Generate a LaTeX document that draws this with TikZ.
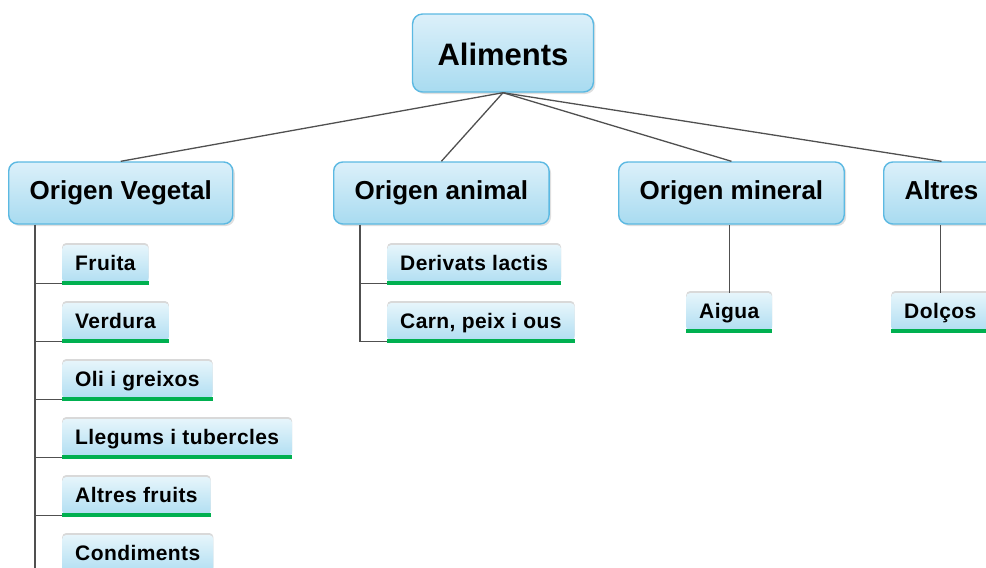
\documentclass[tikz,border=0pt]{standalone}
\usepackage{fontspec}
\setmainfont{Liberation Sans}
\newfontfamily\itemfont{Liberation Sans}[LetterSpace=2]
\usetikzlibrary{shadows}
\definecolor{boxtop}{HTML}{DCF0FA}
\definecolor{boxbot}{HTML}{A8DBF0}
\definecolor{boxline}{HTML}{5CB9E2}
\definecolor{itemtop}{HTML}{E6F5FB}
\definecolor{itembot}{HTML}{B0DEF2}
\definecolor{leafgreen}{HTML}{00B050}
\definecolor{wirecol}{HTML}{505050}
\begin{document}
\begin{tikzpicture}[x=1pt,y=-1pt,
    root/.style={draw=boxline, line width=1.4pt, rounded corners=10pt,
        top color=boxtop, bottom color=boxbot, inner xsep=25pt, minimum height=78pt,
        text height=24pt, text depth=0pt,
        font=\fontsize{31}{36}\selectfont\bfseries,
        drop shadow={shadow xshift=2pt, shadow yshift=-2pt, opacity=.25}},
    group/.style={root, rounded corners=9pt, inner xsep=21pt, minimum height=62pt,
        text height=19pt, text depth=5.5pt,
        font=\fontsize{26}{30}\selectfont\bfseries, anchor=west},
    item/.style={rounded corners=4pt, top color=itemtop, bottom color=itembot,
        inner xsep=13pt, minimum height=38pt, anchor=west,
        text height=16pt, text depth=4pt,
        font=\itemfont\fontsize{21}{25}\selectfont\bfseries,
        drop shadow={shadow xshift=0pt, shadow yshift=2pt, opacity=.3},
        append after command={(\tikzlastnode.south west) edge[leafgreen, line width=4pt] (\tikzlastnode.south east)}},
    wire/.style={draw=wirecol, line width=1.3pt}]
    \useasboundingbox (0,0) rectangle (986,568);
    \clip (0,0) rectangle (986,568);

    \node[root] (food) at (503,53) {Aliments};
    \node[group] (veg) at (8,193) {Origen Vegetal};
    \node[group] (ani) at (333,193) {Origen animal};
    \node[group] (min) at (618,193) {Origen mineral};
    \node[group] (alt) at (883,193) {Altres};
    \foreach \g in {veg,ani,min,alt}
        \draw[wire] (food.south) -- (\g.north);

    % vegetal
    \foreach [count=\i] \t in {Fruita,Verdura,Oli i greixos,Llegums i tubercles,Altres fruits,Condiments}
        \node[item] (v\i) at (62,{264+58*(\i-1)}) {\t};
    \coordinate (vt) at ([xshift=27pt]veg.south west);
    \draw[wire] \foreach \i in {1,...,6} {(vt) |- (v\i.south west)};

    % animal
    \node[item] (a1) at (387,264) {Derivats lactis};
    \node[item] (a2) at (387,322) {Carn, peix i ous};
    \coordinate (anit) at ([xshift=27pt]ani.south west);
    \draw[wire] \foreach \i in {1,2} {(anit) |- (a\i.south west)};

    % mineral, altres
    \node[item] (m1) at (686,312) {Aigua};
    \node[item] (d1) at (891,312) {Dolços};
    \draw[wire] (m1.north) -- (m1.north |- min.south);
    \draw[wire] (d1.north) -- (d1.north |- alt.south);
\end{tikzpicture}
\end{document}
